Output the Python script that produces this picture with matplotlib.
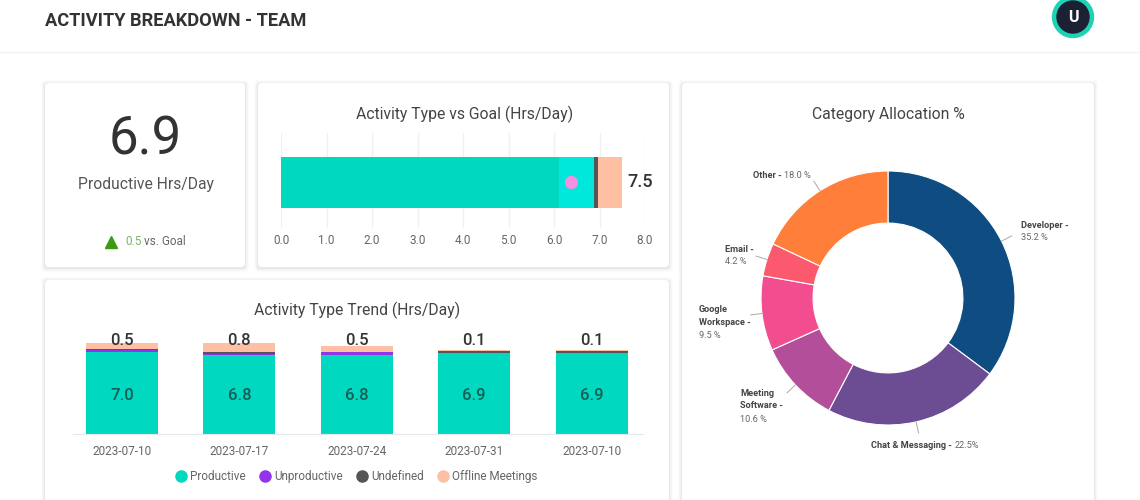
import matplotlib
matplotlib.use('Agg')
import matplotlib.pyplot as plt
import numpy as np
from matplotlib.lines import Line2D
from matplotlib.patches import Circle, FancyBboxPatch
from matplotlib.transforms import blended_transform_factory

plt.rcParams['font.family'] = ['Roboto', 'DejaVu Sans']

W = 1140
H = 500

# goal bar
goal_names = ['Productive (goal)', 'Productive', 'Undefined', 'Offline Meetings']
goal_values = [6.1, 0.78, 0.08, 0.54]
goal_total = 7.5
goal_marker = 6.38
goal_ticks = [0.0, 1.0, 2.0, 3.0, 4.0, 5.0, 6.0, 7.0, 8.0]

# weekly trend
weeks = ['2023-07-10', '2023-07-17', '2023-07-24', '2023-07-31', '2023-07-10']
productive = [7.0, 6.8, 6.8, 6.9, 6.9]
unproductive = [0.22, 0.02, 0.2, 0.02, 0.02]
undefined = [0.04, 0.2, 0.05, 0.18, 0.18]
offline = [0.5, 0.8, 0.5, 0.14, 0.14]

# category donut
categories = ['Developer', 'Chat & Messaging', 'Meeting\nSoftware', 'Google\nWorkspace', 'Email', 'Other']
shares = [35.2, 22.5, 10.6, 9.5, 4.2, 18.0]
share_labels = ['35.2 %', '22.5%', '10.6 %', '9.5 %', '4.2 %', '18.0 %']

TEAL = '#00d8bf'
CYAN = '#00e8dc'
PURPLE = '#9333ea'
DARK = '#555555'
PEACH = '#ffbfa3'
PINK = '#f78fe0'
donut_colors = ['#0f4c81', '#6c4c93', '#b34f9a', '#f24e8f', '#fb5a6e', '#ff7f3a']
TEXT = '#333333'
GREY = '#666666'


def px_axes(x0, y0, x1, y1):
    return fig.add_axes([x0 / W, 1 - y1 / H, (x1 - x0) / W, (y1 - y0) / H])


fig = plt.figure(figsize=(W / 100, H / 100), dpi=100, facecolor='white')

# background layer in pixel coordinates: header, cards, free text
bg = fig.add_axes([0, 0, 1, 1])
bg.set_xlim(0, W)
bg.set_ylim(H, 0)
bg.axis('off')

bg.plot([0, W], [52, 52], color='#f2f2f2', lw=1)
bg.text(45, 21.5, 'ACTIVITY BREAKDOWN - TEAM', fontsize=13.15, fontweight='bold', color=TEXT, va='center')
bg.add_patch(Circle((1073, 17), 20.5, color='#1fd1b5', zorder=3))
bg.add_patch(Circle((1073, 17), 16, color='#1c2033', zorder=4))
bg.text(1073, 17.5, 'U', fontsize=11.5, fontweight='bold', color='white', ha='center', va='center', zorder=5)

for x0, y0, x1, y1 in [(45, 83, 245, 267), (258, 83, 669, 267), (45, 280, 669, 520), (682, 83, 1094, 520)]:
    for grow, alpha in [(4, 0.012), (3, 0.018), (2, 0.025), (1, 0.035)]:
        bg.add_patch(FancyBboxPatch((x0 - grow, y0 - grow + 1), x1 - x0 + 2 * grow, y1 - y0 + 2 * grow,
                                    boxstyle='round,pad=0,rounding_size=4', fc='black', ec='none', alpha=alpha))
    bg.add_patch(FancyBboxPatch((x0, y0), x1 - x0, y1 - y0, boxstyle='round,pad=0,rounding_size=4',
                                fc='white', ec='none'))

# headline number card
bg.text(145.5, 140, '6.9', fontsize=38, color=TEXT, ha='center', va='center')
bg.text(145.5, 184, 'Productive Hrs/Day', fontsize=11.25, color='#555555', ha='center', va='center')
bg.plot([111], [241.5], marker='^', ms=9, color='#3c9a12', ls='none')
bg.text(125, 241.5, '0.5', fontsize=8.5, color='#7db462', va='center')
bg.text(144, 241.5, 'vs. Goal', fontsize=8.5, color=GREY, va='center')

bg.text(464.5, 114, 'Activity Type vs Goal (Hrs/Day)', fontsize=11.3, color='#444444', ha='center', va='center')
bg.text(357, 310, 'Activity Type Trend (Hrs/Day)', fontsize=11.3, color='#444444', ha='center', va='center')
bg.text(888, 114, 'Category Allocation %', fontsize=11.3, color='#444444', ha='center', va='center')

# goal bar chart
ax = px_axes(281, 133, 645, 228)
ax.patch.set_alpha(0)
left = 0
for v, c in zip(goal_values, [TEAL, CYAN, DARK, PEACH]):
    ax.barh(0, v, left=left, height=0.537, color=c, zorder=2)
    left += v
ax.scatter([goal_marker], [0], s=90, color=PINK, zorder=3, linewidths=0)
ax.text(goal_total + 0.11, 0, '%.1f' % goal_total, fontsize=13, fontweight='medium', color=TEXT, va='center', zorder=4)
ax.set_xlim(0, 8)
ax.set_ylim(-0.479, 0.521)
ax.set_yticks([])
ax.set_xticks(goal_ticks)
ax.set_xticklabels(['%.1f' % t for t in goal_ticks], fontsize=8.5, color=GREY)
ax.tick_params(axis='x', length=0, pad=4)
ax.grid(axis='x', color='#f0f0f0', lw=1, zorder=0)
for s in ax.spines.values():
    s.set_visible(False)

# trend stacked bars
ax2 = px_axes(72.7, 330, 643, 434)
ax2.patch.set_alpha(0)
xs = np.arange(len(weeks))
bottom = np.zeros(len(weeks))
for vals, c in zip([productive, unproductive, undefined, offline], [TEAL, PURPLE, DARK, PEACH]):
    ax2.bar(xs, vals, bottom=bottom, width=0.613, color=c, zorder=2)
    bottom += np.array(vals)
trans = blended_transform_factory(ax2.transData, ax2.transAxes)
for i in xs:
    ax2.text(i, 0.375, '%.1f' % productive[i], transform=trans, fontsize=12, fontweight='medium', color='#125f58',
             ha='center', va='center', zorder=3)
    ax2.text(i, 0.9, '%.1f' % offline[i], transform=trans, fontsize=12, fontweight='medium', color=TEXT,
             ha='center', va='center', zorder=3)
ax2.set_xlim(-0.42, 4.438)
ax2.set_ylim(0, 104 / 11.67)
ax2.set_yticks([])
ax2.set_xticks(xs)
ax2.set_xticklabels(weeks, fontsize=8.5, color=GREY)
ax2.tick_params(axis='x', length=0, pad=8)
for s in ['top', 'left', 'right']:
    ax2.spines[s].set_visible(False)
ax2.spines['bottom'].set_color('#e6e6ec')

legend_names = ['Productive', 'Unproductive', 'Undefined', 'Offline Meetings']
handles = [Line2D([], [], marker='o', ls='none', ms=8, color=c) for c in [TEAL, PURPLE, DARK, PEACH]]
fig.legend(handles, legend_names, ncol=4, loc='center', bbox_to_anchor=(356.5 / W, 1 - 476.5 / H), frameon=False,
           fontsize=8.5, labelcolor=GREY, handlelength=1, handletextpad=0.3, columnspacing=1.1, borderpad=0)

# donut
ax3 = px_axes(761, 171, 1015, 425)
ax3.patch.set_alpha(0)
ax3.pie(shares, colors=donut_colors, startangle=90, counterclock=False, radius=1,
        wedgeprops=dict(width=0.41, edgecolor='white', linewidth=0.8))
ax3.set_xlim(-1, 1)
ax3.set_ylim(-1, 1)

# leader lines
edges = np.cumsum([0] + shares)
mids = (edges[:-1] + edges[1:]) / 2
for m in mids:
    a = np.pi / 2 - m / 100 * 2 * np.pi
    ax3.plot([np.cos(a), 1.09 * np.cos(a)], [np.sin(a), 1.09 * np.sin(a)], color='#aaaaaa', lw=0.7, clip_on=False)

# label anchors: x, y of the first line
label_pos = [(1021, 225), (871, 446), (740, 393), (699, 309.5), (725, 249), (753, 176)]
for name, val, (lx, ly) in zip(categories, share_labels, label_pos):
    lines = name.split('\n')
    for k, line in enumerate(lines):
        t = bg.text(lx, ly + k * 13, line + (' -' if k == len(lines) - 1 else ''), fontsize=6.6,
                    fontweight='bold', color='#444444', va='center', zorder=6)
    if name in ('Chat & Messaging', 'Other'):
        fig.canvas.draw()
        bb = t.get_window_extent()
        bg.text(bb.x1 + 2.5, ly, val, fontsize=6.6, color=GREY, va='center', zorder=6)
    else:
        bg.text(lx, ly + len(lines) * 13, val, fontsize=6.6, color=GREY, va='center', zorder=6)

fig.savefig('out.png', dpi=100)
